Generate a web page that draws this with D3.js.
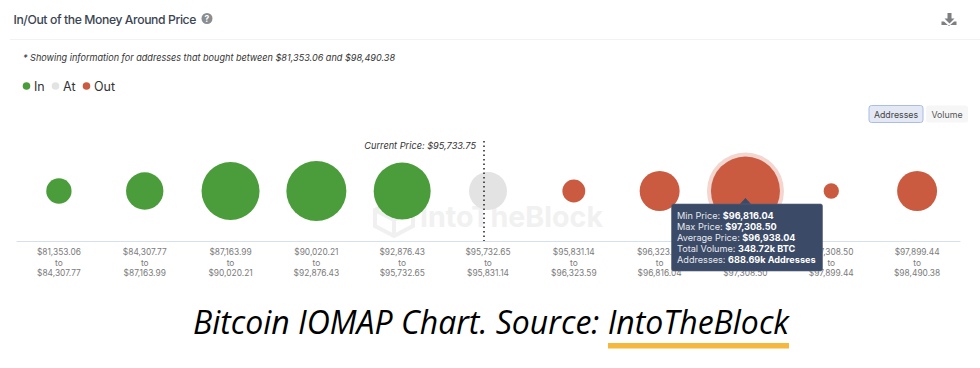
<!DOCTYPE html>
<html>
<head>
<meta charset="utf-8">
<script src="https://cdn.jsdelivr.net/npm/d3@7"></script>
<style>
  html, body { margin: 0; padding: 0; background: #fff; }
  svg { display: block; }
  text { font-family: Inter, "Noto Sans", sans-serif; }
</style>
</head>
<body>
<div id="chart"></div>
<script>
// bucket bounds
const minPrices = ["$81,353.06", "$84,307.77", "$87,163.99", "$90,020.21", "$92,876.43", "$95,732.65", "$95,831.14", "$96,323.59", "$96,816.04", "$97,308.50", "$97,899.44"];
const maxPrices = ["$84,307.77", "$87,163.99", "$90,020.21", "$92,876.43", "$95,732.65", "$95,831.14", "$96,323.59", "$96,816.04", "$97,308.50", "$97,899.44", "$98,490.38"];
// addresses in thousands (only 688.69 is printed)
const addresses = [93, 202, 487, 521, 470, 209, 76, 231, 688.69, 34, 231];
const states = ["In", "In", "In", "In", "In", "At", "Out", "Out", "Out", "Out", "Out"];
const legendItems = ["In", "At", "Out"];
const tooltipLines = [
    ["Min Price: ", "$96,816.04"],
    ["Max Price: ", "$97,308.50"],
    ["Average Price: ", "$96,938.04"],
    ["Total Volume: ", "348.72k BTC"],
    ["Addresses: ", "688.69k Addresses"]
];
const hovered = 8;
const currentPriceBucket = 5;

const width = 980, height = 368;
const axisY = 241, bubbleY = 191;

const svg = d3.select("#chart").append("svg")
    .attr("width", width)
    .attr("height", height);

const sx = d3.scaleBand()
    .domain(d3.range(minPrices.length))
    .range([16, 960]);

const sr = d3.scaleSqrt()
    .domain([0, 688.69])
    .range([0, 34.5]);

const sc = d3.scaleOrdinal()
    .domain(legendItems)
    .range(["#4b9d3c", "#e3e3e3", "#cb5b40"]);

const cx = i => sx(i) + sx.bandwidth() / 2;

drawHeader(svg);
drawLegend(svg);
drawButtons(svg);
drawWatermark(svg);
drawAxis(svg);
drawBubbles(svg);
drawCurrentPrice(svg);
drawTooltip(svg);
drawCaption(svg);

function drawHeader(sel) {
    sel.append("text")
        .attr("x", 13.5).attr("y", 24)
        .attr("font-size", 12.2).attr("font-weight", 500)
        .attr("letter-spacing", -0.4)
        .attr("fill", "#3a4452")
        .text("In/Out of the Money Around Price");

    sel.append("circle").attr("cx", 207).attr("cy", 18.5).attr("r", 5.5).attr("fill", "#8a8d91");
    sel.append("text")
        .attr("x", 207).attr("y", 21.5)
        .attr("text-anchor", "middle")
        .attr("font-size", 8.5).attr("font-weight", 700).attr("fill", "#fff")
        .text("?");

    sel.append("line")
        .attr("x1", 10).attr("x2", 980)
        .attr("y1", 39.5).attr("y2", 39.5)
        .attr("stroke", "#f2f2f2");

    // download icon
    const icon = sel.append("g").attr("fill", "#7d7f82");
    icon.append("path").attr("d", "M947.5 13h4v5.5h3l-5 5-5-5h3z");
    icon.append("path").attr("d", "M944 21.5l5 4.5 5-4.5h2.5v3.5h-15v-3.5z");

    sel.append("text")
        .attr("x", 23).attr("y", 61)
        .attr("font-size", 9.5).attr("font-style", "italic")
        .attr("fill", "#333")
        .attr("textLength", 372).attr("lengthAdjust", "spacingAndGlyphs")
        .text("* Showing information for addresses that bought between $81,353.06 and $98,490.38");
}

function drawLegend(sel) {
    const dotX = [26.5, 55.5, 86.5];
    const g = sel.append("g").selectAll("g")
        .data(legendItems)
        .join("g")
        .attr("transform", (_, i) => `translate(${dotX[i]},86)`);
    g.append("circle").attr("r", 3.8).attr("fill", d => sc(d));
    g.append("text")
        .attr("x", 7.5).attr("y", 4.5)
        .attr("font-size", 12.5).attr("fill", "#333")
        .text(d => d);
}

function drawButtons(sel) {
    sel.append("rect")
        .attr("x", 869).attr("y", 105.5).attr("width", 54).attr("height", 17).attr("rx", 2.5)
        .attr("fill", "#e3e8f4").attr("stroke", "#a9bde6");
    sel.append("rect")
        .attr("x", 926).attr("y", 105.5).attr("width", 42).attr("height", 17).attr("rx", 2.5)
        .attr("fill", "#f6f6f6");
    sel.append("text")
        .attr("x", 896).attr("y", 117.5).attr("text-anchor", "middle")
        .attr("font-size", 8.8).attr("fill", "#444")
        .text("Addresses");
    sel.append("text")
        .attr("x", 947).attr("y", 117.5).attr("text-anchor", "middle")
        .attr("font-size", 8.8).attr("fill", "#555")
        .text("Volume");
}

function drawWatermark(sel) {
    const g = sel.append("g").attr("opacity", 0.9);
    g.append("path")
        .attr("d", "M375 210l19-10 19 10v16l-19 10-19-10z M375 210l19 10 19-10 M394 220v16")
        .attr("fill", "none").attr("stroke", "#efefef").attr("stroke-width", 4);
    g.append("text")
        .attr("x", 420).attr("y", 227)
        .attr("font-size", 29).attr("font-weight", 700).attr("fill", "#f0f0f0")
        .attr("textLength", 183).attr("lengthAdjust", "spacingAndGlyphs")
        .text("IntoTheBlock");
}

function drawAxis(sel) {
    const axis = sel.append("g")
        .attr("transform", `translate(0,${axisY})`)
        .call(d3.axisBottom(sx).tickSize(0).tickFormat(""));
    axis.select(".domain").attr("stroke", "#d5e0ef");

    const label = axis.selectAll(".tick text")
        .attr("y", 0).attr("dy", null)
        .attr("font-size", 8.4)
        .attr("fill", "#7b7b7b")
        .attr("font-family", "Inter, sans-serif");
    label.each(function(d) {
        const t = d3.select(this);
        [minPrices[d], "to", maxPrices[d]].forEach((s, j) => {
            t.append("tspan")
                .attr("x", 0)
                .attr("y", 14 + j * 10.5)
                .text(s);
        });
    });
}

function drawBubbles(sel) {
    sel.append("circle")
        .attr("cx", cx(hovered)).attr("cy", bubbleY)
        .attr("r", sr(addresses[hovered]) + 4)
        .attr("fill", sc(states[hovered]))
        .attr("opacity", 0.25);

    sel.append("g").selectAll("circle")
        .data(addresses)
        .join("circle")
        .attr("cx", (_, i) => cx(i))
        .attr("cy", bubbleY)
        .attr("r", d => sr(d))
        .attr("fill", (_, i) => sc(states[i]));
}

function drawCurrentPrice(sel) {
    const x = cx(currentPriceBucket) - 4;
    sel.append("line")
        .attr("x1", x).attr("x2", x)
        .attr("y1", 141).attr("y2", axisY)
        .attr("stroke", "#222").attr("stroke-width", 1.5)
        .attr("stroke-dasharray", "1.5,3");
    sel.append("text")
        .attr("x", x - 8).attr("y", 149)
        .attr("text-anchor", "end")
        .attr("font-size", 9.2).attr("font-style", "italic")
        .attr("fill", "#333")
        .text("Current Price: $95,733.75");
}

function drawTooltip(sel) {
    const x = 671.5, y = 204, w = 151, h = 67;
    const tipX = cx(hovered);
    const g = sel.append("g");
    g.append("path")
        .attr("d", `M${tipX - 6} ${y + 0.5}L${tipX} ${y - 6}L${tipX + 6} ${y + 0.5}Z`)
        .attr("fill", "#3b4a66");
    g.append("rect")
        .attr("x", x).attr("y", y).attr("width", w).attr("height", h).attr("rx", 2)
        .attr("fill", "#3b4a66").attr("stroke", "#55637d").attr("stroke-width", 0.6);
    const t = g.append("text")
        .attr("font-size", 9.15).attr("fill", "#e6e9ef");
    tooltipLines.forEach((line, i) => {
        const row = t.append("tspan").attr("x", x + 5.5).attr("y", y + 14.5 + i * 11);
        row.text(line[0]);
        t.append("tspan").attr("font-weight", 700).attr("fill", "#fff").text(line[1]);
    });
}

function drawCaption(sel) {
    sel.append("text")
        .attr("x", 193).attr("y", 333.5)
        .attr("font-size", 32).attr("font-style", "italic")
        .attr("fill", "#000")
        .attr("textLength", 596).attr("lengthAdjust", "spacingAndGlyphs")
        .style("font-family", "'Open Sans', sans-serif")
        .text("Bitcoin IOMAP Chart. Source: IntoTheBlock");
    sel.append("rect")
        .attr("x", 608).attr("y", 343).attr("width", 181).attr("height", 5.5)
        .attr("fill", "#f5b83d");
}
</script>
</body>
</html>
